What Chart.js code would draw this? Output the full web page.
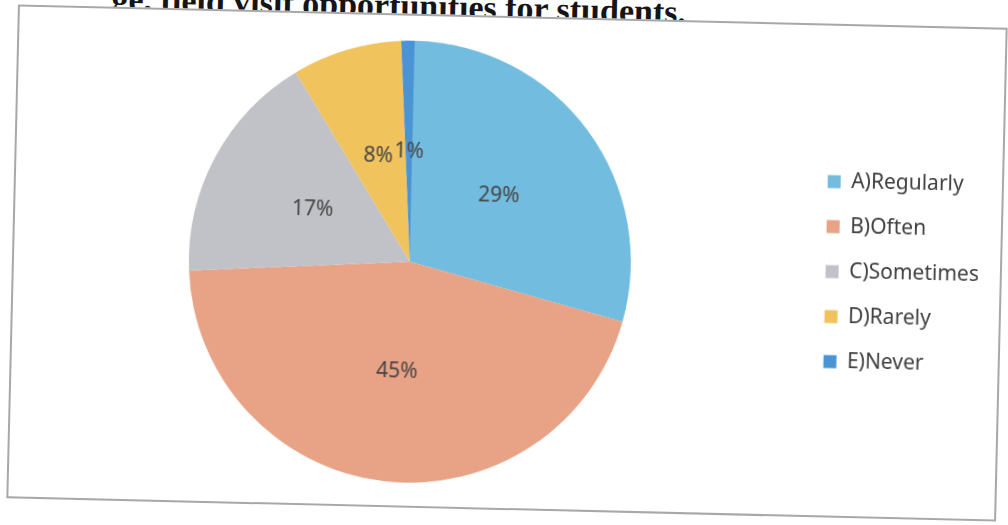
<!DOCTYPE html>
<html>
<head>
<meta charset="utf-8">
<script src="https://cdn.jsdelivr.net/npm/chart.js@4/dist/chart.umd.min.js"></script>
<style>
  html, body { margin: 0; padding: 0; background: #ffffff; }
  body { width: 1008px; height: 525px; position: relative; overflow: hidden; }
  #title {
    position: absolute; left: 112px; top: -20px; white-space: nowrap; line-height: 1;
    font: bold 34px "Liberation Serif", "DejaVu Serif", serif; color: #151515;
    transform: rotate(1.35deg); transform-origin: 0 0;
  }
  #frame {
    position: absolute; left: 12px; top: 16px; width: 990px; height: 494px;
    transform: rotate(1.35deg); transform-origin: 50% 50%;
    box-sizing: border-box; border: 2px solid #a8a8a8; background: #fff;
  }
  #frame canvas { position: absolute; left: -2px; top: -2px; }
</style>
</head>
<body>
<div id="title">ge, field visit opportunities for students.</div>
<div id="frame"><canvas id="pie" width="990" height="494"></canvas></div>
<script>
// values
const categories = ['A)Regularly', 'B)Often', 'C)Sometimes', 'D)Rarely', 'E)Never'];
const percentages = [29, 45, 17, 8, 1];

const sliceColors = ['#72bce0', '#e8a286', '#c1c1c8', '#f0c35c', '#4a94d4'];

// writes "nn%" in the middle of each slice, like the Excel data labels
const pctLabels = {
    id: 'pctLabels',
    afterDatasetsDraw(chart) {
        const ctx = chart.ctx;
        const meta = chart.getDatasetMeta(0);
        ctx.save();
        ctx.font = '21px "Noto Sans"';
        ctx.fillStyle = '#464646';
        ctx.textAlign = 'center';
        ctx.textBaseline = 'middle';
        meta.data.forEach((arc, i) => {
            const p = arc.tooltipPosition(true);
            ctx.fillText(percentages[i] + '%', p.x, p.y);
        });
        ctx.restore();
    }
};

new Chart(document.getElementById('pie'), {
    type: 'pie',
    data: {
        labels: categories,
        datasets: [{
            data: percentages,
            backgroundColor: sliceColors,
            borderWidth: 0
        }]
    },
    options: {
        responsive: false,
        animation: false,
        layout: { padding: { left: 6, right: 13, top: 27, bottom: 25 } },
        plugins: {
            legend: {
                position: 'right',
                labels: {
                    boxWidth: 13,
                    boxHeight: 13,
                    padding: 24,
                    color: '#404040',
                    font: { family: 'Noto Sans', size: 21 }
                }
            },
            tooltip: { enabled: false }
        }
    },
    plugins: [pctLabels]
});
</script>
</body>
</html>
